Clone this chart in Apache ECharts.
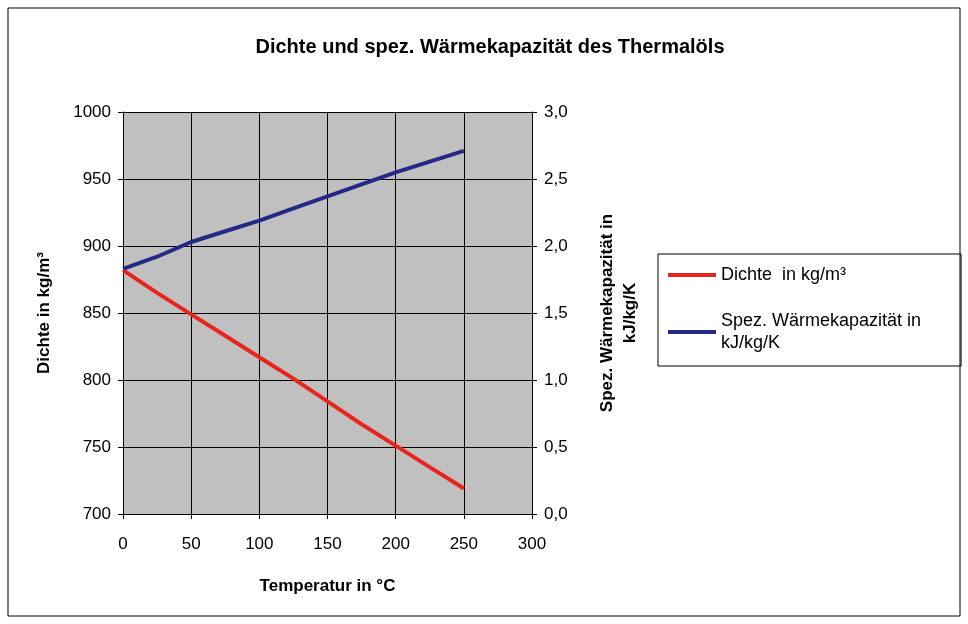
<!DOCTYPE html>
<html><head><meta charset="utf-8">
<script src="https://cdn.jsdelivr.net/npm/echarts@6/dist/echarts.min.js"></script>
<style>html,body{margin:0;background:#fff}#c{width:968px;height:624px}</style>
</head><body><div id="c"></div>
<script>
const temps = [0, 25, 50, 75, 100, 125, 150, 175, 200, 225, 250];
const dichte = [882, 865, 849, 833, 817, 801, 784, 767, 751, 735, 719];
const waerme = [1.83, 1.92, 2.03, 2.11, 2.19, 2.28, 2.37, 2.46, 2.55, 2.63, 2.71];
const fmtComma = v => v.toFixed(1).replace('.', ',');
const chart = echarts.init(document.getElementById('c'));
const font = 'Liberation Sans, Arial, sans-serif';
chart.setOption({
  animation: false,
  textStyle: { fontFamily: font },
  graphic: [{ type: 'rect', shape: { x: 8, y: 8, width: 952, height: 608 }, style: { fill: 'none', stroke: '#000', lineWidth: 1 } }],
  title: { text: 'Dichte und spez. Wärmekapazität des Thermalöls', left: 485, top: 32, textAlign: 'center',
    textStyle: { fontFamily: font, fontSize: 20, fontWeight: 'bold', color: '#000' } },
  legend: { orient: 'vertical', left: 658, top: 254, itemWidth: 48, itemHeight: 4, itemGap: 24,
    borderColor: '#000', borderWidth: 1, padding: [10, 40, 12, 10], icon: 'rect',
    textStyle: { fontFamily: font, fontSize: 18, color: '#000', lineHeight: 22 },
    data: ['Dichte  in kg/m³', 'Spez. Wärmekapazität in\nkJ/kg/K'] },
  grid: { left: 123, top: 112, width: 409, height: 402, backgroundColor: '#c0c0c0', show: true, borderColor: '#000', borderWidth: 0 },
  xAxis: { type: 'value', min: 0, max: 300, interval: 50,
    name: 'Temperatur in °C', nameLocation: 'middle', nameGap: 64,
    nameTextStyle: { fontFamily: font, fontSize: 17, fontWeight: 'bold', color: '#000' },
    axisLine: { lineStyle: { color: '#000' } }, axisTick: { show: true, inside: false, length: 5, lineStyle: { color: '#000' } },
    axisLabel: { fontFamily: font, fontSize: 17, color: '#000', margin: 22 },
    splitLine: { show: true, lineStyle: { color: '#000', width: 1 } } },
  yAxis: [
    { type: 'value', min: 700, max: 1000, interval: 50, name: 'Dichte in kg/m³', nameLocation: 'middle', nameGap: 70, nameRotate: 90,
      nameTextStyle: { fontFamily: font, fontSize: 17, fontWeight: 'bold', color: '#000' },
      axisLine: { show: true, lineStyle: { color: '#000' } }, axisTick: { show: true, length: 5, lineStyle: { color: '#000' } },
      axisLabel: { fontFamily: font, fontSize: 17, color: '#000', margin: 12, formatter: v => String(v) },
      splitLine: { show: true, lineStyle: { color: '#000', width: 1 } } },
    { type: 'value', min: 0, max: 3, interval: 0.5, position: 'right',
      name: 'Spez. Wärmekapazität in\nkJ/kg/K', nameLocation: 'middle', nameGap: 64, nameRotate: 90,
      nameTextStyle: { fontFamily: font, fontSize: 17, fontWeight: 'bold', color: '#000', lineHeight: 23 },
      axisLine: { show: true, lineStyle: { color: '#000' } }, axisTick: { show: true, length: 5, lineStyle: { color: '#000' } },
      axisLabel: { fontFamily: font, fontSize: 17, color: '#000', margin: 12, formatter: fmtComma },
      splitLine: { show: false } }
  ],
  series: [
    { name: 'Dichte  in kg/m³', type: 'line', yAxisIndex: 0, showSymbol: false, color: '#e8241c',
      lineStyle: { width: 4 }, data: temps.map((t, i) => [t, dichte[i]]) },
    { name: 'Spez. Wärmekapazität in\nkJ/kg/K', type: 'line', yAxisIndex: 1, showSymbol: false, color: '#262886',
      lineStyle: { width: 4 }, data: temps.map((t, i) => [t, waerme[i]]) }
  ]
});
</script></body></html>
